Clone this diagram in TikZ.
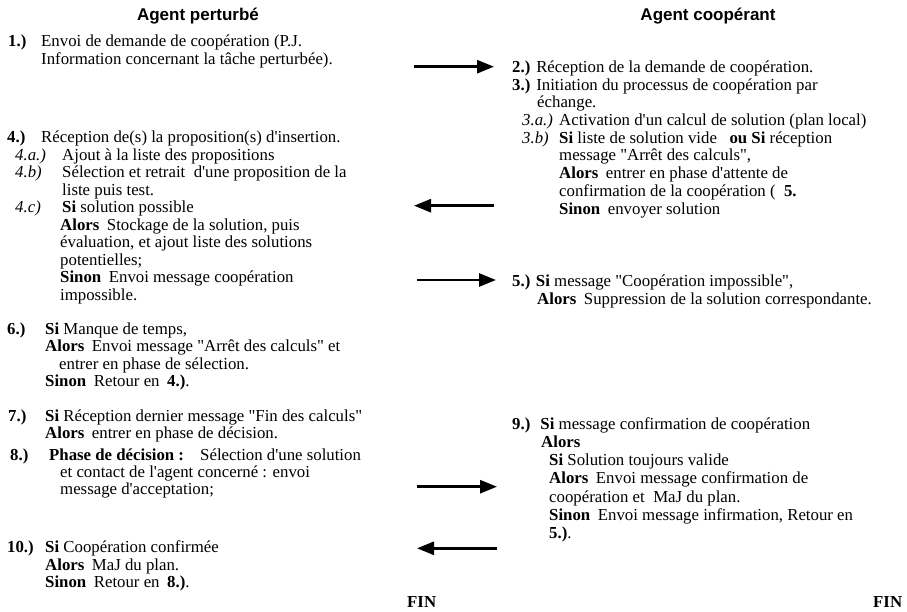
\documentclass[tikz,border=0pt]{standalone}
\usepackage{fontspec}
\setmainfont{Liberation Serif}[Ligatures=TeXOff]
\newfontfamily\hdfont{Liberation Sans}
\usetikzlibrary{arrows.meta}
\newcommand{\gp}{\hspace{0.45em}}
\tikzset{
  txt/.style={anchor=base west, inner sep=0pt, font=\fontsize{16.8}{17.6}\selectfont},
  hd/.style={anchor=base, inner sep=0pt, font=\hdfont\bfseries\fontsize{17}{20}\selectfont},
  msg/.style={line width=2.7pt, -{Triangle[length=17pt,width=13pt]}}
}
\begin{document}
\begin{tikzpicture}[x=1pt,y=-1pt]
\useasboundingbox (0,0) rectangle (907,612);
% headers
\node[hd] (h1) at (198,21) {Agent perturbé};
\node[hd] (h2) at (708,21) {Agent coopérant};
% ---- left column
\node[txt] (n1) at (8,47) {\textbf{1.)}};
\node[txt] (t1a) at (41,47) {Envoi de demande de coopération (P.J.};
\node[txt] (t1b) at (41,64.5) {Information concernant la tâche perturbée).};
\node[txt] (n4) at (7,143) {\textbf{4.)}};
\node[txt] (t4) at (41,143) {Réception de(s) la proposition(s) d'insertion.};
\node[txt] (n4a) at (15,160.5) {\textit{4.a.)}};
\node[txt] (t4a) at (62,160.5) {Ajout à la liste des propositions};
\node[txt] (n4b) at (15,178) {\textit{4.b)}};
\node[txt] (t4b) at (62,178) {Sélection et retrait\ \ d'une proposition de la};
\node[txt] (t4b2) at (62,195.5) {liste puis test.};
\node[txt] (n4c) at (15,213) {\textit{4.c)}};
\node[txt] (t4c) at (62,213) {\textbf{Si} solution possible};
\node[txt] (t4c2) at (60,230.5) {\textbf{Alors}\gp Stockage de la solution, puis};
\node[txt] (t4c3) at (60,248) {évaluation, et ajout liste des solutions};
\node[txt] (t4c4) at (60,265.5) {potentielles;};
\node[txt] (t4c5) at (60,283) {\textbf{Sinon}\gp Envoi message coopération};
\node[txt] (t4c6) at (60,300.5) {impossible.};
\node[txt] (n6) at (7,334) {\textbf{6.)}};
\node[txt] (t6) at (45,334) {\textbf{Si} Manque de temps,};
\node[txt] (t62) at (45,351.5) {\textbf{Alors}\gp Envoi message "Arrêt des calculs" et};
\node[txt] (t63) at (59,369) {entrer en phase de sélection.};
\node[txt] (t64) at (45,386.5) {\textbf{Sinon}\gp Retour en\gp\textbf{4.)}.};
\node[txt] (n7) at (8,421) {\textbf{7.)}};
\node[txt] (t7) at (45,421) {\textbf{Si} Réception dernier message "Fin des calculs"};
\node[txt] (t72) at (45,438) {\textbf{Alors}\gp entrer en phase de décision.};
\node[txt] (n8) at (10,460.5) {\textbf{8.)}};
\node[txt] (t8) at (49,460.5) {\textbf{Phase de décision :}};
\node[txt] (t8b) at (200,460.5) {Sélection d'une solution};
\node[txt] (t82) at (60,477.5) {et contact de l'agent concerné : envoi};
\node[txt] (t83) at (60,494.5) {message d'acceptation;};
\node[txt] (n10) at (7,552.5) {\textbf{10.)}};
\node[txt] (t10) at (45,552.5) {\textbf{Si} Coopération confirmée};
\node[txt] (t102) at (45,570) {\textbf{Alors}\gp MaJ du plan.};
\node[txt] (t103) at (45,587.5) {\textbf{Sinon}\gp Retour en\gp\textbf{8.)}.};
\node[txt] (fin1) at (407,607.5) {\textbf{FIN}};
% ---- right column
\node[txt] (r2) at (512,72.5) {\textbf{2.)}\hspace{0.35em}Réception de la demande de coopération.};
\node[txt] (r3) at (512,90.2) {\textbf{3.)}\hspace{0.35em}Initiation du processus de coopération par};
\node[txt] (r32) at (537,107.9) {échange.};
\node[txt] (n3a) at (522,125.6) {\textit{3.a.)}};
\node[txt] (r3a) at (559,125.6) {Activation d'un calcul de solution (plan local)};
\node[txt] (n3b) at (522,143.3) {\textit{3.b)}};
\node[txt] (r3b) at (559,143.3) {\textbf{Si} liste de solution vide\ \ \ \textbf{ou Si} réception};
\node[txt] (r3b2) at (559,161) {message "Arrêt des calculs",};
\node[txt] (r3b3) at (559,178.7) {\textbf{Alors}\gp entrer en phase d'attente de};
\node[txt] (r3b4) at (559,196.4) {confirmation de la coopération (\ \ \textbf{5.}};
\node[txt] (r3b5) at (559,214.1) {\textbf{Sinon}\gp envoyer solution};
\node[txt] (r5) at (512,286.7) {\textbf{5.) Si} message "Coopération impossible",};
\node[txt] (r52) at (537,304.4) {\textbf{Alors}\gp Suppression de la solution correspondante.};
\node[txt] (r9) at (512,429) {\textbf{9.)}\hspace{0.6em}\textbf{Si} message confirmation de coopération};
\node[txt] (r92) at (541,447.3) {\textbf{Alors}};
\node[txt] (r93) at (549,465.6) {\textbf{Si} Solution toujours valide};
\node[txt] (r94) at (549,483.9) {\textbf{Alors}\gp Envoi message confirmation de};
\node[txt] (r95) at (549,502.2) {coopération et\ \ MaJ du plan.};
\node[txt] (r96) at (549,520.5) {\textbf{Sinon}\gp Envoi message infirmation, Retour en};
\node[txt] (r97) at (549,538.8) {\textbf{5.)}.};
\node[txt] (fin2) at (873,607.5) {\textbf{FIN}};
% ---- arrows
\coordinate (a1s) at (414,66.7);  \coordinate (a1e) at (494,66.7);
\coordinate (a2s) at (494,205.7); \coordinate (a2e) at (414,205.7);
\coordinate (a3s) at (417,280);   \coordinate (a3e) at (496,280);
\coordinate (a4s) at (417,486.7); \coordinate (a4e) at (497,486.7);
\coordinate (a5s) at (497,548.3); \coordinate (a5e) at (417,548.3);
\draw[msg] (a1s) -- (a1e);
\draw[msg] (a2s) -- (a2e);
\draw[msg] (a3s) -- (a3e);
\draw[msg] (a4s) -- (a4e);
\draw[msg] (a5s) -- (a5e);
\end{tikzpicture}
\end{document}
